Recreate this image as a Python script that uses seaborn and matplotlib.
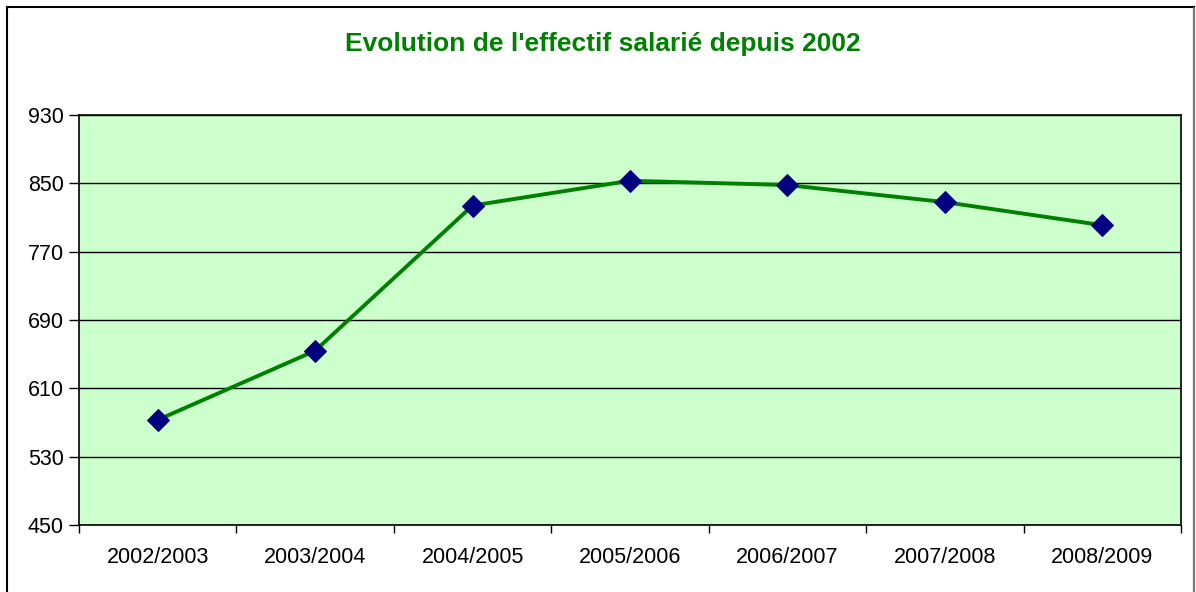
import matplotlib
matplotlib.use("Agg")
import matplotlib.pyplot as plt
import seaborn as sns
import pandas as pd
from matplotlib.patches import Rectangle

categories = ["2002/2003", "2003/2004", "2004/2005", "2005/2006", "2006/2007", "2007/2008", "2008/2009"]
effectif = [573, 654, 824, 853, 848, 828, 801]
y_ticks = [450, 530, 610, 690, 770, 850, 930]
title = "Evolution de l'effectif salarié depuis 2002"

df = pd.DataFrame({"annee": categories, "effectif": effectif, "pos": range(len(categories))})

sns.set_theme(style="white")
plt.rcParams["font.family"] = ["Liberation Sans", "DejaVu Sans"]

fig = plt.figure(figsize=(11.96, 5.92), dpi=100)
ax = fig.add_axes([79 / 1196, 1 - 525 / 592, (1181 - 79) / 1196, (525 - 115) / 592])
ax.set_facecolor("#CCFFCC")

sns.lineplot(data=df, x="pos", y="effectif", ax=ax, color="#008000", linewidth=2.8,
             marker="D", markersize=11, markerfacecolor="#000080", markeredgecolor="#000080",
             zorder=5)

ax.set_xlim(-0.5, len(categories) - 0.5)
ax.set_ylim(450, 930)
ax.set_yticks(y_ticks)
ax.set_yticklabels([str(v) for v in y_ticks], fontsize=15.5, color="black")
ax.set_xticks([i - 0.5 for i in range(len(categories) + 1)])
ax.set_xticklabels([])
ax.set_xticks(list(range(len(categories))), minor=True)
ax.set_xticklabels(categories, minor=True, fontsize=15.5, color="black")
ax.tick_params(axis="x", which="minor", length=0, pad=16)
ax.tick_params(axis="x", which="major", length=6, width=1, color="black", direction="out", bottom=True)
ax.tick_params(axis="y", length=7, width=1, color="black", direction="out", left=True, pad=4)
ax.set_xlabel("")
ax.set_ylabel("")
ax.grid(axis="y", color="black", linewidth=1)
ax.grid(axis="x", visible=False)
ax.set_axisbelow(True)
for s in ax.spines.values():
    s.set_color("black")
    s.set_linewidth(1.2)

fig.text(603 / 1196, 1 - 44 / 592, title, ha="center", va="center", fontsize=19,
         fontweight="bold", color="#008000")

fig.patches.append(Rectangle((6.5 / 1196, -0.1), (1194 - 6.5) / 1196, 1 - 7 / 592 + 0.1,
                             transform=fig.transFigure, fill=False, edgecolor="black",
                             linewidth=1.5, zorder=0))
fig.lines.append(plt.Line2D([1194 / 1196, 1194 / 1196], [0, 1 - 8 / 592],
                            transform=fig.transFigure, color="#777777", linewidth=1.5))

fig.savefig("out.png", dpi=100)
